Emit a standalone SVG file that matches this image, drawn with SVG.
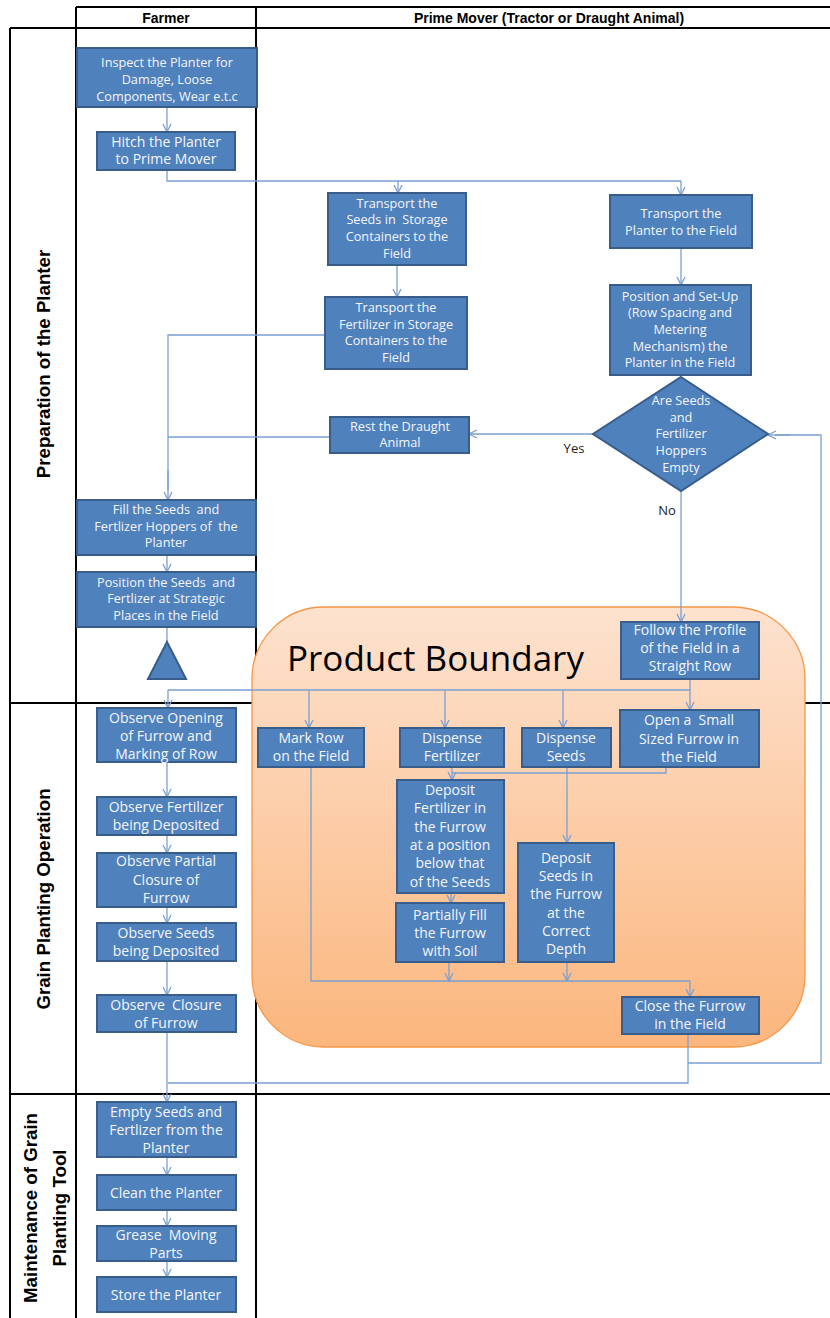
<svg xmlns="http://www.w3.org/2000/svg" width="830" height="1318" viewBox="0 0 830 1318">
<style>
.lane{stroke:#000;stroke-width:2;fill:none}
.box{fill:#4F81BD;stroke:#385D8A;stroke-width:2}
.bt{font-family:"Open Sans","Liberation Sans",sans-serif;font-size:12.7px;fill:#F4F6FA;text-anchor:middle;white-space:pre}
.bl{font-size:14px}
.hd{font-family:"Liberation Sans",Arial,sans-serif;font-size:14px;font-weight:bold;fill:#000;text-anchor:middle}
.ll{font-family:"Liberation Sans",Arial,sans-serif;font-size:18.7px;font-weight:bold;fill:#000;text-anchor:middle}
.con{stroke:#7A9FD2;stroke-width:1.3;fill:none}
.arr{stroke:#7A9FD2;stroke-width:1.3;fill:none;marker-end:url(#ah)}
.lbl{font-family:"Open Sans","Liberation Sans",sans-serif;font-size:13px;fill:#222;text-anchor:middle}
</style>
<defs>
<marker id="ah" markerWidth="10" markerHeight="10" refX="9" refY="5" orient="auto" markerUnits="userSpaceOnUse">
<path d="M1,1 L9,5 L1,9" fill="none" stroke="#7A9FD2" stroke-width="1.3"/>
</marker>
<linearGradient id="pb" x1="0" y1="0" x2="0" y2="1">
<stop offset="0" stop-color="#FDE2CF"/>
<stop offset="1" stop-color="#FBB67D"/>
</linearGradient>
</defs>
<rect width="830" height="1318" fill="#fff"/>
<g id="lanes">
<path class="lane" d="M76,7 H830 M10,28 H830 M10,28 V1318 M76,7 V1318 M256,7 V1318 M10,703 H830 M10,1094 H830"/>
<text class="hd" x="166" y="23">Farmer</text>
<text class="hd" x="549" y="23">Prime Mover (Tractor or Draught Animal)</text>
<text class="ll" transform="translate(50,364) rotate(-90)">Preparation of the Planter</text>
<text class="ll" transform="translate(50,899) rotate(-90)">Grain Planting Operation</text>
<text class="ll" transform="translate(37,1208) rotate(-90)">Maintenance of Grain</text>
<text class="ll" transform="translate(66,1208) rotate(-90)">Planting Tool</text>
</g>
<g id="product-boundary">
<rect x="252" y="607" width="553" height="440" rx="72" ry="72" fill="url(#pb)" stroke="#F79646" stroke-width="1.3"/>
<text x="287" y="671" font-family="'Open Sans','Liberation Sans',sans-serif" font-size="35" fill="#000">Product Boundary</text>
</g>
<g id="connectors">
<path class="arr" d="M167,107 V132"/>
<path class="con" d="M167,170 V181 H681"/>
<path class="arr" d="M398,181 V193"/>
<path class="arr" d="M681,181 V195"/>
<path class="arr" d="M397,265 V297"/>
<path class="arr" d="M681,248 V285"/>
<path class="con" d="M325,335 H168 V490"/>
<path class="arr" d="M168,470 V500"/>
<path class="con" d="M330,437 H168"/>
<path class="arr" d="M593,434 H469"/>
<path class="arr" d="M681,491 V622"/>
<path class="arr" d="M167,555 V572"/>
<path class="con" d="M167,627 V642"/>
<path class="arr" d="M690,679 V710"/>
<path class="con" d="M690,690 H168"/>
<path class="arr" d="M168,690 V708"/>
<path class="arr" d="M309,691 V728"/>
<path class="arr" d="M445,691 V728"/>
<path class="arr" d="M563,691 V728"/>
<path class="con" d="M666,767 V773 H452"/>
<path class="arr" d="M452,767 V780"/>
<path class="arr" d="M567,767 V843"/>
<path class="arr" d="M451,893 V903"/>
<path class="con" d="M311,767 V981 H690"/>
<path class="arr" d="M449,962 V981"/>
<path class="arr" d="M567,962 V981"/>
<path class="arr" d="M690,981 V997"/>
<path class="con" d="M688,1034 V1083 H168"/>
<path class="con" d="M688,1063 H821 V435 H775"/>
<path class="arr" d="M790,435 H768"/>
<path class="arr" d="M167,762 V797"/>
<path class="arr" d="M167,835 V853"/>
<path class="arr" d="M167,907 V923"/>
<path class="arr" d="M167,961 V995"/>
<path class="con" d="M167,1032 V1083"/>
<path class="arr" d="M167,1083 V1102"/>
<path class="arr" d="M167,1157 V1175"/>
<path class="arr" d="M167,1210 V1226"/>
<path class="arr" d="M167,1261 V1277"/>
<text class="lbl" x="574" y="453">Yes</text>
<text class="lbl" x="667" y="515">No</text>
</g>
<g id="n-inspect"><rect class="box" x="77" y="48" width="180" height="59"/>
<text class="bt" x="167" y="67">Inspect the Planter for</text><text class="bt" x="167" y="84">Damage, Loose</text><text class="bt" x="167" y="101">Components, Wear e.t.c</text></g>
<g id="n-hitch"><rect class="box" x="97" y="132" width="138" height="38"/>
<text class="bt bl" x="166" y="147">Hitch the Planter</text><text class="bt bl" x="166" y="164">to Prime Mover</text></g>
<g id="n-tseeds"><rect class="box" x="328" y="193" width="138" height="72"/>
<text class="bt" x="397" y="208">Transport the</text><text class="bt" x="397" y="224">Seeds in  Storage</text><text class="bt" x="397" y="241">Containers to the</text><text class="bt" x="397" y="258">Field</text></g>
<g id="n-tfert"><rect class="box" x="325" y="297" width="142" height="72"/>
<text class="bt" x="396" y="312">Transport the</text><text class="bt" x="396" y="329">Fertilizer in Storage</text><text class="bt" x="396" y="345">Containers to the</text><text class="bt" x="396" y="362">Field</text></g>
<g id="n-tplanter"><rect class="box" x="610" y="195" width="142" height="53"/>
<text class="bt" x="681" y="218">Transport the</text><text class="bt" x="681" y="235">Planter to the Field</text></g>
<g id="n-position"><rect class="box" x="610" y="285" width="141" height="90"/>
<text class="bt" x="680" y="301">Position and Set-Up</text><text class="bt" x="680" y="317">(Row Spacing and</text><text class="bt" x="680" y="334">Metering</text><text class="bt" x="680" y="351">Mechanism) the</text><text class="bt" x="680" y="367">Planter in the Field</text></g>
<g id="n-decision"><polygon class="box" points="681,377 768,434 681,491 593,434"/>
<text class="bt" x="681" y="405">Are Seeds</text><text class="bt" x="681" y="422">and</text><text class="bt" x="681" y="438">Fertilizer</text><text class="bt" x="681" y="455">Hoppers</text><text class="bt" x="681" y="472">Empty</text></g>
<g id="n-rest"><rect class="box" x="330" y="417" width="139" height="36"/>
<text class="bt" x="400" y="431">Rest the Draught</text><text class="bt" x="400" y="447">Animal</text></g>
<g id="n-fill"><rect class="box" x="77" y="500" width="179" height="55"/>
<text class="bt" x="166" y="514">Fill the Seeds  and</text><text class="bt" x="166" y="531">Fertlizer Hoppers of  the</text><text class="bt" x="166" y="547">Planter</text></g>
<g id="n-posseeds"><rect class="box" x="77" y="572" width="179" height="55"/>
<text class="bt" x="166" y="587">Position the Seeds  and</text><text class="bt" x="166" y="603">Fertlizer at Strategic</text><text class="bt" x="166" y="620">Places in the Field</text></g>
<g id="n-triangle"><polygon class="box" points="167,642 186,679 148,679"/></g>
<g id="n-follow"><rect class="box" x="621" y="622" width="138" height="57"/>
<text class="bt bl" x="690" y="635">Follow the Profile</text><text class="bt bl" x="690" y="653">of the Field in a</text><text class="bt bl" x="690" y="671">Straight Row</text></g>
<g id="n-markrow"><rect class="box" x="258" y="728" width="106" height="39"/>
<text class="bt bl" x="311" y="743">Mark Row</text><text class="bt bl" x="311" y="761">on the Field</text></g>
<g id="n-dispfert"><rect class="box" x="400" y="728" width="104" height="39"/>
<text class="bt bl" x="452" y="743">Dispense</text><text class="bt bl" x="452" y="761">Fertilizer</text></g>
<g id="n-dispseeds"><rect class="box" x="522" y="728" width="89" height="39"/>
<text class="bt bl" x="566" y="743">Dispense</text><text class="bt bl" x="566" y="761">Seeds</text></g>
<g id="n-open"><rect class="box" x="620" y="710" width="139" height="57"/>
<text class="bt bl" x="689" y="725">Open a  Small</text><text class="bt bl" x="689" y="744">Sized Furrow in</text><text class="bt bl" x="689" y="762">the Field</text></g>
<g id="n-depfert"><rect class="box" x="397" y="780" width="107" height="113"/>
<text class="bt bl" x="450" y="795">Deposit</text><text class="bt bl" x="450" y="813">Fertilizer in</text><text class="bt bl" x="450" y="832">the Furrow</text><text class="bt bl" x="450" y="850">at a position</text><text class="bt bl" x="450" y="868">below that</text><text class="bt bl" x="450" y="887">of the Seeds</text></g>
<g id="n-partfill"><rect class="box" x="396" y="903" width="108" height="59"/>
<text class="bt bl" x="450" y="920">Partially Fill</text><text class="bt bl" x="450" y="938">the Furrow</text><text class="bt bl" x="450" y="956">with Soil</text></g>
<g id="n-depseeds"><rect class="box" x="518" y="843" width="96" height="119"/>
<text class="bt bl" x="566" y="863">Deposit</text><text class="bt bl" x="566" y="881">Seeds in</text><text class="bt bl" x="566" y="899">the Furrow</text><text class="bt bl" x="566" y="918">at the</text><text class="bt bl" x="566" y="936">Correct</text><text class="bt bl" x="566" y="954">Depth</text></g>
<g id="n-close"><rect class="box" x="622" y="997" width="137" height="37"/>
<text class="bt bl" x="690" y="1011">Close the Furrow</text><text class="bt bl" x="690" y="1029">in the Field</text></g>
<g id="n-obsopen"><rect class="box" x="97" y="708" width="139" height="54"/>
<text class="bt bl" x="166" y="723">Observe Opening</text><text class="bt bl" x="166" y="741">of Furrow and</text><text class="bt bl" x="166" y="759">Marking of Row</text></g>
<g id="n-obsfert"><rect class="box" x="97" y="797" width="139" height="38"/>
<text class="bt bl" x="166" y="812">Observe Fertilizer</text><text class="bt bl" x="166" y="830">being Deposited</text></g>
<g id="n-obspartial"><rect class="box" x="97" y="853" width="139" height="54"/>
<text class="bt bl" x="166" y="866">Observe Partial</text><text class="bt bl" x="166" y="885">Closure of</text><text class="bt bl" x="166" y="903">Furrow</text></g>
<g id="n-obsseeds"><rect class="box" x="97" y="923" width="139" height="38"/>
<text class="bt bl" x="166" y="938">Observe Seeds</text><text class="bt bl" x="166" y="956">being Deposited</text></g>
<g id="n-obsclose"><rect class="box" x="97" y="995" width="139" height="37"/>
<text class="bt bl" x="166" y="1010">Observe  Closure</text><text class="bt bl" x="166" y="1028">of Furrow</text></g>
<g id="n-empty"><rect class="box" x="97" y="1102" width="139" height="55"/>
<text class="bt bl" x="166" y="1117">Empty Seeds and</text><text class="bt bl" x="166" y="1135">Fertlizer from the</text><text class="bt bl" x="166" y="1153">Planter</text></g>
<g id="n-clean"><rect class="box" x="97" y="1175" width="139" height="35"/>
<text class="bt bl" x="166" y="1198">Clean the Planter</text></g>
<g id="n-grease"><rect class="box" x="97" y="1226" width="139" height="35"/>
<text class="bt bl" x="166" y="1240">Grease  Moving</text><text class="bt bl" x="166" y="1258">Parts</text></g>
<g id="n-store"><rect class="box" x="97" y="1277" width="139" height="35"/>
<text class="bt bl" x="166" y="1300">Store the Planter</text></g>
</svg>
